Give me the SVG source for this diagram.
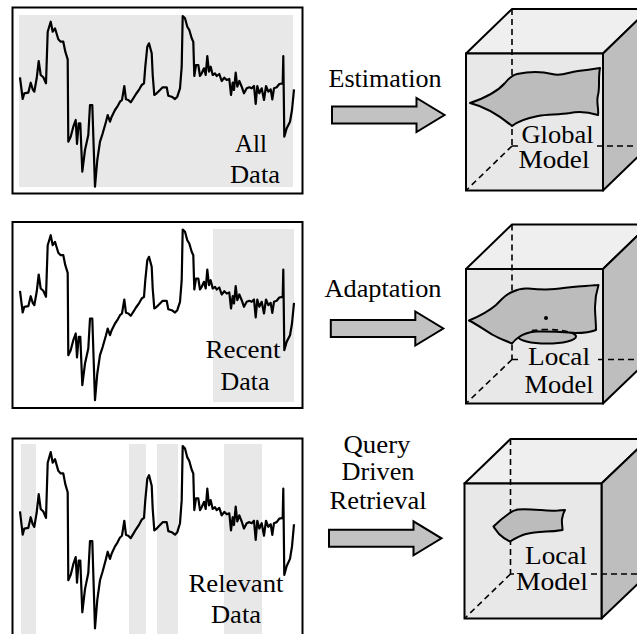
<svg xmlns="http://www.w3.org/2000/svg" width="637" height="634" viewBox="0 0 637 634">
<style>
.panel{fill:#fff;stroke:#000;stroke-width:2}
.hl{fill:#e8e8e8}
.series{fill:none;stroke:#000;stroke-width:2.2;stroke-linejoin:round}
.lbl{font-family:"Liberation Serif","Times New Roman",serif;font-size:25px;fill:#000;text-anchor:middle}
.arrow{fill:#c2c2c2;stroke:#000;stroke-width:2;stroke-linejoin:miter}
.front{fill:#e8e8e8;stroke:#000;stroke-width:2}
.top{fill:#efefef;stroke:#000;stroke-width:2;stroke-linejoin:round}
.side{fill:#bebebe;stroke:#000;stroke-width:2;stroke-linejoin:round}
.dash{fill:none;stroke:#000;stroke-width:1.6;stroke-dasharray:6 4}
.blob{fill:#bcbcbc;stroke:#000;stroke-width:2;stroke-linejoin:round}
</style>
<defs>
<path id="ts" d="M20,77.3 L22.7,99 L24.3,93.3 L28.3,92.7 L30.7,82.7 L32.7,89.3 L34.3,91.7 L36.7,78.3 L38.7,61 L40.7,75 L43.3,77.3 L46,83.3 L47.7,31.7 L50.7,21.7 L52.7,31.7 L55,28.3 L58.3,39.3 L60.7,41.7 L63.3,41.7 L65.3,51.7 L67.7,59.3 L68.3,141.7 L70.7,136.7 L73.3,126.7 L75.7,120 L77,144 L78.7,123.3 L80.3,123.3 L82.3,171.7 L85,150 L88.3,135 L90,105 L92.3,105 L95,186.7 L97.3,160 L100,141.7 L102.7,133.3 L106,121.7 L107.7,115 L110,121.7 L111.7,116.7 L115,110 L117.3,106.7 L120,101.7 L122,100 L124.3,86 L126,99.3 L128.3,100 L130.7,102.3 L133.3,98.3 L136,94 L139.3,89.3 L141.7,85 L144,83.3 L145.3,66.7 L147.3,46.7 L149,43.3 L151.7,53.3 L152.7,75 L154.3,95 L156.7,93.3 L160,90 L162.7,87.3 L166.7,87.3 L168.3,95.7 L171.7,96.7 L175,99 L177.3,96.7 L180,88.3 L181.7,66.7 L182.7,16 L185,18.3 L187.3,26.7 L189.3,30 L191.7,38.3 L193.3,41.7 L194.3,76 L196,65 L198.3,65 L200,76 L201.7,73.3 L204,68.3 L205.7,75 L207.3,56 L209,71.7 L210.7,66.7 L212.7,75 L215,73.3 L216.7,76 L219.3,74 L221.7,81 L224.3,77.7 L226.7,80 L229.3,79 L231,95 L232.7,82.7 L234,90 L235.7,72.7 L237.3,86.7 L239.3,81 L241.7,86.7 L244,93.3 L246.7,88.3 L249.3,87.3 L251.7,88.3 L254,86 L255.7,104 L257.3,86 L259.3,93.3 L261.7,88.3 L264,100 L266,86 L268.3,91.7 L270.7,89.3 L272.3,99.3 L274,88.3 L276.7,87.3 L279.3,84 L282.7,83.3 L283.3,56 L284.3,136.7 L286.7,128.3 L290,121.7 L292,110 L294,89.3" vector-effect="non-scaling-stroke"/>
<path id="arr" d="M332,106.5 H416.5 V98 L444.5,115 L416.5,132 V123.5 H332 Z"/>
</defs>

<g id="panel-all">
<rect class="panel" x="12.5" y="7.5" width="290" height="186"/>
<rect class="hl" x="19" y="15" width="274" height="172"/>
<use href="#ts" class="series"/>
<text class="lbl" x="251" y="152" textLength="32" lengthAdjust="spacingAndGlyphs">All</text>
<text class="lbl" x="255" y="183" textLength="50" lengthAdjust="spacingAndGlyphs">Data</text>
</g>

<g id="panel-recent">
<rect class="panel" x="12.5" y="222" width="290" height="186"/>
<rect class="hl" x="213" y="229" width="81" height="173"/>
<use href="#ts" class="series" transform="translate(0,213.5)"/>
<text class="lbl" x="243" y="358" textLength="75" lengthAdjust="spacingAndGlyphs">Recent</text>
<text class="lbl" x="245" y="390" textLength="49" lengthAdjust="spacingAndGlyphs">Data</text>
</g>

<g id="panel-relevant">
<rect class="panel" x="12.5" y="438.5" width="290" height="210"/>
<rect class="hl" x="21" y="444" width="15" height="200"/>
<rect class="hl" x="129" y="444" width="17" height="200"/>
<rect class="hl" x="157" y="444" width="21" height="200"/>
<rect class="hl" x="224" y="444" width="38" height="200"/>
<use href="#ts" class="series" transform="matrix(1,0,0,1.068,0,428.9)"/>
<text class="lbl" x="236" y="592" textLength="95" lengthAdjust="spacingAndGlyphs">Relevant</text>
<text class="lbl" x="236" y="623" textLength="50" lengthAdjust="spacingAndGlyphs">Data</text>
</g>

<g id="connectors">
<use href="#arr" class="arrow"/>
<text class="lbl" x="385" y="87" textLength="113" lengthAdjust="spacingAndGlyphs">Estimation</text>
<use href="#arr" class="arrow" transform="translate(-1.2,213.5)"/>
<text class="lbl" x="383" y="297" textLength="117" lengthAdjust="spacingAndGlyphs">Adaptation</text>
<use href="#arr" class="arrow" transform="translate(-3,423.3)"/>
<text class="lbl" x="377" y="453" textLength="67" lengthAdjust="spacingAndGlyphs">Query</text>
<text class="lbl" x="378" y="480" textLength="73" lengthAdjust="spacingAndGlyphs">Driven</text>
<text class="lbl" x="378" y="509" textLength="97" lengthAdjust="spacingAndGlyphs">Retrieval</text>
</g>

<g id="cube-global">
<polygon class="top" points="466,53.5 512,9 649,9 603,53.5"/>
<polygon class="side" points="603,53.5 649,9 649,146 603,190.5"/>
<rect class="front" x="466" y="53.5" width="137" height="137"/>
<path class="dash" d="M512,9 V146 M512,146 L466,190.5 M512,146 H518 M597,146 H649"/>
<path class="blob" d="M470,103 C482,99 497,92 505,83 C509,78 512,75 517,74 C527,72 540,71 552,74 C562,77 568,72 578,71 C588,70 594,69 600,68 C598,78 600,88 598,95 C596,103 599,108 598,115 C588,112 580,111 570,113 C558,115 548,114 538,116 C528,118 518,121 512,126 C500,116 486,107 470,103 Z"/>
<text class="lbl" x="557.5" y="142.5" textLength="72" lengthAdjust="spacingAndGlyphs">Global</text>
<text class="lbl" x="554" y="167.5" textLength="71" lengthAdjust="spacingAndGlyphs">Model</text>
</g>

<g id="cube-local-adapt">
<polygon class="top" points="466,269 512,224.5 649,224.5 603,269"/>
<polygon class="side" points="603,269 649,224.5 649,359.5 603,403.5"/>
<rect class="front" x="466" y="269" width="137" height="134.5"/>
<path class="dash" d="M512,224.5 V359.5 M512,359.5 L466,403.5 M512,359.5 H518 M598,359.5 H649"/>
<ellipse class="blob" cx="547" cy="336.5" rx="29" ry="7"/>
<path class="blob" d="M469,320.5 C480,316 489,311 496,305 C502,299 506,294 512,292 C518,289 522,288 528,288.5 C538,289.5 546,290 555,289 C565,288 570,287 578,286.5 C586,286 592,285.5 598.5,285 C596,293 595,300 595,307 C595,315 596,322 596,330 C589,333 582,333 575,333 C562,332 550,331 537,331.5 C528,332 523,334 519,337 C516,339 514,341 512,343.5 C504,340 498,338 493,335 C486,331 478,325 469,320.5 Z"/>
<path class="dash" d="M576,336.5 A29,7 0 0 0 531,330.7"/>
<circle cx="546" cy="318" r="2" fill="#000"/>
<text class="lbl" x="559" y="365" textLength="62" lengthAdjust="spacingAndGlyphs">Local</text>
<text class="lbl" x="559" y="393" textLength="69" lengthAdjust="spacingAndGlyphs">Model</text>
</g>

<g id="cube-local-query">
<polygon class="top" points="464.5,483.5 510.5,439 648,439 601.5,483.5"/>
<polygon class="side" points="601.5,483.5 648,439 648,574 601.5,618.5"/>
<rect class="front" x="464.5" y="483.5" width="137" height="135"/>
<path class="dash" d="M510.5,439 V574 M510.5,574 L464.5,618.5 M510.5,574 H514 M591,574 H648"/>
<path class="blob" d="M493.5,526.5 C499,521 504,517 509,513.5 C512,511 514,510 518,509.5 C526,509 533,509.5 541,510 C549,511 553,511 558,510.5 C561,510 563,510 565,510 C563,513 562.5,516 562,519 C561.5,523 562.5,526 562.5,530 C557,531 552,531.5 546,531.5 C538,532 532,532.5 526,534 C520,535.5 515,538.5 510,541.5 C505,539 502,537 499,534 C497,531 495,529 493.5,526.5 Z"/>
<text class="lbl" x="556" y="564" textLength="62" lengthAdjust="spacingAndGlyphs">Local</text>
<text class="lbl" x="552" y="590" textLength="72" lengthAdjust="spacingAndGlyphs">Model</text>
</g>
</svg>
